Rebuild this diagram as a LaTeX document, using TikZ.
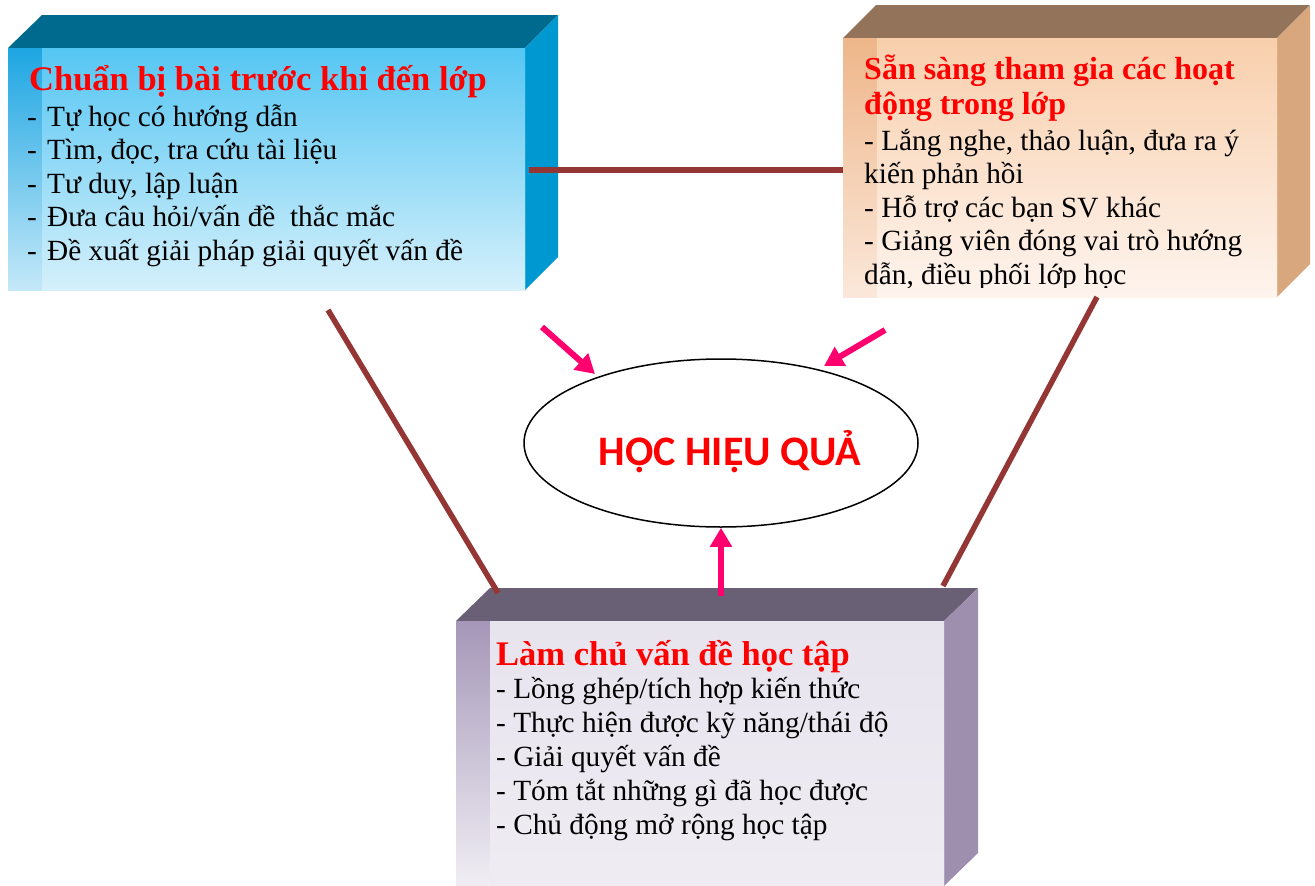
\documentclass[tikz,border=0pt]{standalone}
\usepackage{fontspec}
\setmainfont{Liberation Serif}
\newfontfamily\carlito{Carlito}
\usetikzlibrary{arrows.meta,calc,shapes.geometric}
\definecolor{Ltop}{HTML}{006A8E}
\definecolor{Lside}{HTML}{0098D0}
\definecolor{LinA}{HTML}{55C6F3}
\definecolor{LinB}{HTML}{D5F0FB}
\definecolor{LstA}{HTML}{1EA6E2}
\definecolor{LstB}{HTML}{C4E8F8}
\definecolor{Rtop}{HTML}{93735A}
\definecolor{Rside}{HTML}{D9A77E}
\definecolor{RinA}{HTML}{F8CFAC}
\definecolor{RinB}{HTML}{FEF4EE}
\definecolor{RstA}{HTML}{EEB68A}
\definecolor{RstB}{HTML}{FBE8DA}
\definecolor{Btop}{HTML}{6A6076}
\definecolor{Bside}{HTML}{9F8FAF}
\definecolor{BinA}{HTML}{E8E4EE}
\definecolor{BinB}{HTML}{EFECF3}
\definecolor{BstA}{HTML}{A597B8}
\definecolor{BstB}{HTML}{F0EEF4}
\definecolor{connc}{HTML}{943634}
\definecolor{pinkc}{HTML}{FF006E}
\begin{document}
\begin{tikzpicture}[x=1pt,y=-1pt,
  front/.style={rectangle,inner sep=0,outer sep=0,anchor=north west},
  ttl/.style={font=\bfseries\fontsize{34.5}{36}\selectfont,text=red,anchor=base west,inner sep=0},
  bd/.style={font=\fontsize{29.3}{33}\selectfont,anchor=base west,inner sep=0},
  conn/.style={draw=connc,line width=5.5pt},
  parrow/.style={draw=pinkc,line width=6pt,-{Triangle[length=19pt,width=21pt]}}]
\useasboundingbox (0,0) rectangle (1315,886);

% ---------- left box ----------
\node[front,minimum width=517pt,minimum height=242pt] (L) at (8,48) {};
\fill[Ltop] (L.north west) -- ++(34,-33) -- ($(L.north east)+(33,-33)$) -- (L.north east) -- cycle;
\fill[Lside] (L.north east) -- ++(33,-33) -- ($(L.south east)+(33,-33)$) -- (L.south east) -- cycle;
\shade[top color=LstA,bottom color=LstB] (L.north west) rectangle (L.south east);
\shade[top color=LinA,bottom color=LinB] ($(L.north west)+(34,0)$) rectangle (L.south east);
\node[ttl] (Lt) at (29,90) {Chuẩn bị bài trước khi đến lớp};
\foreach \t [count=\i] in {Tự học có hướng dẫn,{Tìm, đọc, tra cứu tài liệu},{Tư duy, lập luận},Đưa câu hỏi/vấn đề~ thắc mắc,Đề xuất giải pháp giải quyết vấn đề}{
  \node[bd] (Ld\i) at (27,{126+33.5*(\i-1)}) {-};
  \node[bd] (Lx\i) at (47,{126+33.5*(\i-1)}) {\t};
}

% ---------- right box ----------
\node[front,minimum width=434pt,minimum height=259pt] (R) at (843,38) {};
\fill[Rtop] (R.north west) -- ++(33,-33) -- ($(R.north east)+(33,-33)$) -- (R.north east) -- cycle;
\fill[Rside] (R.north east) -- ++(33,-33) -- ($(R.south east)+(33,-33)$) -- (R.south east) -- cycle;
\shade[top color=RstA,bottom color=RstB] (R.north west) rectangle (R.south east);
\shade[top color=RinA,bottom color=RinB] ($(R.north west)+(34,0)$) rectangle (R.south east);
\begin{scope}
\clip (R.north west) rectangle ($(R.south east)+(0,-10)$);
\node[ttl,font=\bfseries\fontsize{32}{35}\selectfont] (Rt1) at (864,79) {Sẵn sàng tham gia các hoạt};
\node[ttl,font=\bfseries\fontsize{32}{35}\selectfont] (Rt2) at (864,114) {động trong lớp};
\foreach \t [count=\i] in {{- Lắng nghe, thảo luận, đưa ra ý},kiến phản hồi,- Hỗ trợ các bạn SV khác,- Giảng viên đóng vai trò hướng,{dẫn, điều phối lớp học}}{
  \node[bd] (Rx\i) at (864,{150+33.5*(\i-1)}) {\t};
}
\end{scope}

% ---------- bottom box ----------
\node[front,minimum width=488pt,minimum height=265pt] (B) at (456,621) {};
\fill[Btop] (B.north west) -- ++(34,-33) -- ($(B.north east)+(34,-33)$) -- (B.north east) -- cycle;
\fill[Bside] (B.north east) -- ++(34,-33) -- ($(B.south east)+(34,-33)$) -- (B.south east) -- cycle;
\shade[top color=BstA,bottom color=BstB] (B.north west) rectangle (B.south east);
\shade[top color=BinA,bottom color=BinB] ($(B.north west)+(34,0)$) rectangle ($(B.south east)+(0,16)$);
\node[ttl] (Bt) at (496,665) {Làm chủ vấn đề học tập};
\foreach \t [count=\i] in {- Lồng ghép/tích hợp kiến thức,- Thực hiện được kỹ năng/thái độ,- Giải quyết vấn đề,- Tóm tắt những gì đã học được,- Chủ động mở rộng học tập}{
  \node[bd] (Bx\i) at (496,{698+34*(\i-1)}) {\t};
}

% ---------- centre ----------
\node[ellipse,draw=black,line width=1.5pt,minimum width=394pt,minimum height=168pt,inner sep=0] (E) at (721,443) {};
\node[font=\carlito\bfseries\fontsize{42}{44}\selectfont,text=red,anchor=base,inner sep=0] (Et) at (730,465) {HỌC HIỆU QUẢ};

% ---------- connectors ----------
\coordinate (c1) at ($(L.east)+(4,1)$);
\coordinate (c2) at (R.west |- c1);
\draw[conn] (c1) -- (c2);
\coordinate (c3) at ($(L.south west)+(320,20)$);
\coordinate (c4) at ($(B.north west)+(42,-28)$);
\draw[conn] (c3) -- (c4);
\coordinate (c5) at ($(R.south west)+(254,0)$);
\coordinate (c6) at ($(B.north east)+(-1,-35)$);
\draw[conn] (c5) -- (c6);

% ---------- arrows ----------
\coordinate (a1s) at (542,327);
\coordinate (a1e) at (595,374);
\draw[parrow] (a1s) -- (a1e);
\coordinate (a2s) at (885,330);
\coordinate (a2e) at (824,366);
\draw[parrow] (a2s) -- (a2e);
\coordinate (a3s) at (721,596);
\draw[parrow] (a3s) -- (E.south);
\end{tikzpicture}
\end{document}
